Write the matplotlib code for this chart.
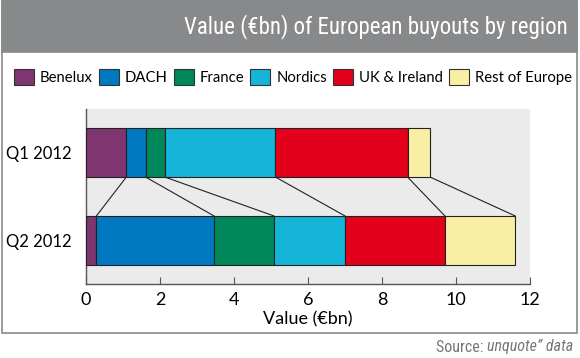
import matplotlib
matplotlib.use("Agg")
import matplotlib.pyplot as plt
import numpy as np
from matplotlib.patches import Rectangle, Patch
from matplotlib import font_manager

regions = ["Benelux", "DACH", "France", "Nordics", "UK & Ireland", "Rest of Europe"]
periods = ["Q1 2012", "Q2 2012"]
q1_values = [1.09, 0.52, 0.52, 2.99, 3.57, 0.61]
q2_values = [0.28, 3.18, 1.62, 1.92, 2.70, 1.90]
colors = ["#7F3570", "#0079C1", "#00885A", "#15B5DA", "#E2001A", "#F8EFA5"]
xticks = [0, 2, 4, 6, 8, 10, 12]

avail = {f.name for f in font_manager.fontManager.ttflist}
def pick(*names):
    for n in names:
        if n in avail:
            return n
    return "DejaVu Sans"

narrow = pick("Liberation Sans Narrow", "Roboto Condensed", "Roboto")
body = pick("Lato", "Open Sans", "DejaVu Sans")
plt.rcParams['font.family'] = [body, 'DejaVu Sans']

W, H = 580, 358
fig = plt.figure(figsize=(W / 100, H / 100), dpi=100)

def fx(px):
    return px / W
def fy(py):
    return 1 - py / H

# outer box
fig.patches.append(Rectangle((fx(2), fy(333)), fx(575), 331 / H, transform=fig.transFigure,
                             facecolor="white", edgecolor="#8a8a8a", lw=1.2, zorder=-2))
# title bar
fig.patches.append(Rectangle((fx(2), fy(52)), fx(575), 52 / H, transform=fig.transFigure,
                             facecolor="#88898B", edgecolor="#88898B", lw=1.2, zorder=-1))
fig.text(fx(568), fy(27), "Value (€bn) of European buyouts by region", color="white",
         ha="right", va="center", fontsize=16.5, family=[narrow, 'DejaVu Sans'])

ax = fig.add_axes([fx(86), fy(284), fx(530) - fx(86), (284 - 109) / H])
ax.set_zorder(5)
ax.set_facecolor("#EBEBEB")

ypos = [1, 0]
h = 0.555
all_vals = [q1_values, q2_values]
cums = []
for y, vals in zip(ypos, all_vals):
    left = np.concatenate([[0], np.cumsum(vals)[:-1]])
    cums.append(np.cumsum(vals))
    ax.barh([y] * len(vals), vals, left=left, height=h, color=colors,
            edgecolor="#222222", linewidth=0.8, zorder=3)

for a, b in zip(cums[0], cums[1]):
    ax.plot([a, b], [1 - h / 2, 0 + h / 2], color="#222222", lw=0.8, zorder=2)

ax.set_xlim(0, 12)
ax.set_ylim(-0.5, 1.5)
ax.set_xticks(xticks)
ax.set_xticklabels([str(t) for t in xticks])
ax.set_yticks(ypos)
ax.set_yticklabels(periods)
ax.tick_params(axis="x", direction="in", length=5, color="#555555", labelsize=13, pad=6)
ax.tick_params(axis="y", length=0, labelsize=12, pad=10)
for s in ["top", "right"]:
    ax.spines[s].set_visible(False)
for s in ["left", "bottom"]:
    ax.spines[s].set_color("#555555")
    ax.spines[s].set_linewidth(1.0)
ax.set_xlabel("Value (€bn)", fontsize=13, labelpad=2)

handles = [Patch(facecolor=c, edgecolor="#333333", lw=0.8) for c in colors]
fig.legend(handles, regions, loc="center", bbox_to_anchor=(fx(293), fy(77)), ncol=6,
           frameon=False, fontsize=10.7, handlelength=1.35, handleheight=1.35,
           handletextpad=0.4, columnspacing=0.4, borderaxespad=0, borderpad=0)

t1 = fig.text(fx(573), fy(347), "unquote\u201d data", ha="right", va="center", fontsize=11.5,
              color="#777777", style="italic", family=[narrow, 'DejaVu Sans'])
fig.canvas.draw()
bb = t1.get_window_extent()
fig.text(bb.x0 / fig.dpi / fig.get_figwidth(), fy(347), "Source: ", ha="right", va="center",
         fontsize=11.5, color="#777777", family=[narrow, 'DejaVu Sans'])

fig.savefig("out.png", dpi=100)
